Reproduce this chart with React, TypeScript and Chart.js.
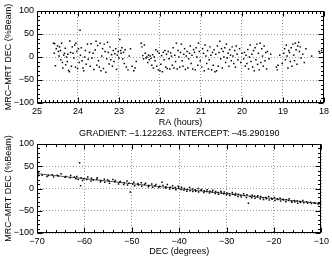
import React, { useEffect, useRef } from "react";
import { Chart, registerables } from "chart.js";

Chart.register(...registerables);

// ---- Data ----
const raHours = [
  24.60, 24.58, 24.57, 24.55, 24.53, 24.50, 24.48, 24.46, 24.45, 24.43,
  24.42, 24.40, 24.38, 24.37, 24.35, 24.33, 24.31, 24.30, 24.28, 24.26,
  24.25, 24.23, 24.21, 24.20, 24.18, 24.16, 24.14, 24.12, 24.10, 24.08,
  24.06, 24.05, 24.03, 24.01, 23.99, 23.97, 23.95, 23.94, 23.92, 23.90,
  23.88, 23.86, 23.84, 23.82, 23.80, 23.77, 23.75, 23.72, 23.70, 23.68,
  23.66, 23.63, 23.61, 23.58, 23.56, 23.54, 23.52, 23.50, 23.48, 23.46,
  23.44, 23.42, 23.40, 23.38, 23.36, 23.34, 23.32, 23.30, 23.28, 23.26,
  23.24, 23.22, 23.20, 23.18, 23.16, 23.14, 23.12, 23.10, 23.08, 23.06,
  23.04, 23.02, 23.00, 22.98, 22.96, 22.95, 22.93, 22.91, 22.89, 22.87,
  22.85, 22.82, 22.78, 22.75, 22.72, 22.68, 22.64, 22.61, 22.58, 22.46,
  22.44, 22.42, 22.40, 22.38, 22.36, 22.34, 22.32, 22.30, 22.28, 22.26,
  22.24, 22.22, 22.20, 22.18, 22.16, 22.14, 22.12, 22.10, 22.08, 22.06,
  22.04, 22.02, 22.00, 21.98, 21.96, 21.94, 21.92, 21.90, 21.88, 21.86,
  21.84, 21.82, 21.80, 21.78, 21.76, 21.74, 21.72, 21.70, 21.68, 21.66,
  21.64, 21.62, 21.60, 21.58, 21.56, 21.54, 21.52, 21.50, 21.48, 21.46,
  21.44, 21.42, 21.40, 21.38, 21.36, 21.34, 21.32, 21.30, 21.28, 21.26,
  21.24, 21.22, 21.20, 21.18, 21.16, 21.14, 21.12, 21.10, 21.08, 21.06,
  21.04, 21.02, 20.98, 20.96, 20.94, 20.92, 20.90, 20.88, 20.86, 20.84,
  20.82, 20.80, 20.78, 20.76, 20.74, 20.72, 20.70, 20.68, 20.66, 20.64,
  20.62, 20.60, 20.58, 20.56, 20.54, 20.52, 20.50, 20.48, 20.46, 20.44,
  20.42, 20.40, 20.38, 20.36, 20.34, 20.32, 20.30, 20.28, 20.26, 20.24,
  20.22, 20.20, 20.18, 20.16, 20.14, 20.12, 20.10, 20.06, 20.03, 20.00,
  19.96, 19.94, 19.92, 19.90, 19.88, 19.86, 19.84, 19.82, 19.80, 19.78,
  19.76, 19.74, 19.72, 19.70, 19.68, 19.66, 19.64, 19.62, 19.60, 19.58,
  19.56, 19.54, 19.52, 19.50, 19.48, 19.46, 19.44, 19.42, 19.40, 19.38,
  19.34, 19.30, 19.16, 19.14, 19.12, 19.08, 19.02, 18.98, 18.96, 18.94,
  18.92, 18.90, 18.88, 18.86, 18.84, 18.82, 18.80, 18.78, 18.76, 18.74,
  18.72, 18.70, 18.68, 18.66, 18.64, 18.62, 18.60, 18.58, 18.56, 18.52,
  18.48, 18.44, 18.30, 18.12, 18.10, 18.06,
];
const raDiff = [
  30, 8, 29, -19, 18, 24, 12, 2, 22, 14,
  -6, 30, -12, -24, 4, 8, 19, -17, 0, -10,
  6, -29, -32, 35, 10, -20, 22, 8, -2, 26,
  -22, 30, 12, -25, 18, -12, 58, 4, 20, -8,
  -24, -30, 0, 14, -16, 28, -5, 10, -20, 29,
  -2, 8, -27, 15, 34, -18, 25, -8, -22, 30,
  -30, 2, 18, -25, 28, 12, -33, -4, 32, 10,
  -15, 22, -6, 5, -20, 14, -10, 7, 18, -27,
  4, 12, -2, 38, 14, 8, 20, -4, 10, -14,
  16, -22, -28, 2, 18, -20, -30, -24, -10, 30,
  22, 3, -4, 26, 8, -2, 0, -12, 4, -6,
  2, -3, -18, 5, -24, 0, -8, 16, -20, 12,
  -28, 8, -30, -16, 3, -32, 10, -6, 14, -22,
  6, -25, 12, -4, -26, 9, 2, -18, 20, -24,
  4, -10, 30, -26, 14, 0, -22, 10, 28, -8,
  -20, 6, 18, -27, 2, 12, -24, -4, 8, 24,
  -14, 4, -26, 16, 10, -28, 20, 0, -18, 30,
  12, -8, -22, 18, 8, -30, 26, 2, -14, 14,
  -26, -6, 22, 4, -28, 10, -18, 16, -32, 6,
  -30, 24, -20, 10, 34, -4, 18, -24, 12, 0,
  20, -12, 28, -2, 8, -20, 16, 4, -8, 22,
  2, -14, 14, -22, 24, 6, -6, 18, -12, 8,
  -4, 10, -20, 4, -14, 16, -26, 0, 26, -10,
  6, -22, 14, -30, 20, -6, 28, -16, 8, -28,
  30, -12, 18, 2, -20, 24, -8, 10, -26, 12,
  -4, 6, -22, -28, -18, 4, -14, 8, 18, -6,
  26, 2, -24, 14, 10, -10, 20, -20, 28, 4,
  -8, 30, 16, -16, 24, 32, 12, 22, -2, 6,
  -12, 18, 2, 12, 8, 14,
];

const decDeg = [
  -69.9, -69.8, -69.7, -68.9, -67.9, -67.6, -66.8, -66.5, -65.7, -65.5,
  -64.9, -64.1, -63.9, -63.0, -62.9, -62.1, -61.8, -61.6, -61.3, -61.0,
  -60.8, -60.7, -60.4, -60.1, -59.5, -59.3, -58.6, -58.5, -58.1, -57.4,
  -57.3, -56.6, -56.5, -55.8, -55.7, -55.1, -54.8, -54.7, -54.0, -53.6,
  -53.5, -52.8, -52.6, -52.4, -51.7, -51.6, -51.0, -50.9, -50.6, -50.3,
  -49.8, -49.6, -49.4, -48.7, -48.6, -48.0, -47.9, -47.3, -47.1, -46.5,
  -46.4, -45.8, -45.6, -45.1, -44.9, -44.3, -44.1, -43.6, -43.4, -42.9,
  -42.8, -42.5, -42.0, -41.9, -41.4, -41.3, -40.8, -40.7, -40.2, -40.1,
  -39.6, -39.5, -39.0, -38.9, -38.4, -38.3, -37.8, -37.7, -37.2, -37.1,
  -36.6, -36.5, -36.0, -35.9, -35.4, -35.3, -34.8, -34.7, -34.2, -34.1,
  -33.6, -33.5, -33.0, -32.9, -32.4, -32.3, -31.8, -31.7, -31.2, -31.1,
  -30.6, -30.5, -30.0, -29.9, -29.4, -29.3, -28.8, -28.7, -28.2, -28.1,
  -27.6, -27.5, -27.0, -26.9, -26.4, -26.3, -25.8, -25.7, -25.4, -25.0,
  -24.7, -24.6, -24.1, -24.0, -23.5, -23.4, -22.9, -22.8, -22.3, -22.2,
  -21.7, -21.6, -21.1, -21.0, -20.5, -20.4, -19.9, -19.8, -19.3, -19.2,
  -18.7, -18.6, -18.1, -18.0, -17.5, -17.4, -16.9, -16.8, -16.3, -16.2,
  -15.7, -15.6, -15.1, -15.0, -14.5, -14.4, -13.9, -13.7, -13.1, -12.9,
  -12.3, -12.1, -11.5, -11.3, -10.7, -10.5, -10.2,
];
const decDiff = [
  32, 28, 35, 30, 27, 29, 31, 26, 30, 28,
  33, 25, 27, 24, 29, 26, 22, 27, 20, 58,
  6, 24, 18, 22, 20, 26, 17, 23, 19, 21,
  24, 15, 18, 21, 14, 19, 17, 12, 20, 15,
  18, 10, 14, 16, 9, 13, 17, 8, 12, -8,
  10, 14, 6, 11, 8, 13, 5, 9, 12, 4,
  7, 10, 3, 6, 9, 2, 5, 14, 7, 1,
  4, 9, -1, 3, 6, 0, 2, -3, 5, 1,
  -2, 3, -4, 0, -6, -2, 2, -5, -1, -7,
  -3, -6, 0, -8, -4, -2, -9, -5, -7, -3,
  -10, -6, -8, -4, -11, -7, -9, -13, -6, -10,
  -12, -8, -14, -10, -12, -16, -9, -13, -15, -11,
  -18, -13, -15, -19, -12, -16, -20, -14, -33, -18,
  -21, -15, -17, -22, -19, -16, -23, -18, -21, -25,
  -20, -23, -18, -26, -22, -24, -20, -27, -23, -25,
  -22, -28, -24, -26, -30, -25, -27, -23, -29, -31,
  -27, -30, -28, -33, -29, -31, -27, -32, -30, -33,
  -31, -34, -32, -33, -35, -34, -33,
];

const fitDec = [-70, -10];
const fitDiff = [33.27, -34.07];

const raTicks = [25, 24, 23, 22, 21, 20, 19, 18];
const decTicks = [-70, -60, -50, -40, -30, -20, -10];
const diffTicks = [-100, -50, 0, 50, 100];

const yTitle = "MRC\u2013MRT DEC (%Beam)";
const topXTitle = "RA (hours)";
const bottomXTitle = "DEC (degrees)";
const fitTitle = "GRADIENT: \u20131.122263. INTERCEPT: \u201345.290190";

const FONT_FAMILY = "'Liberation Sans', Arial, Helvetica, sans-serif";
const font = { family: FONT_FAMILY, size: 9 };
const fmt = (v: any) => String(v).replace("-", "\u2212");

const framePlugin = {
  id: "idlFrame",
  afterDatasetsDraw(chart: any, _args: any, opts: any) {
    const { ctx, chartArea: a, scales } = chart;
    const x = scales.x;
    const y = scales.y;
    ctx.save();
    ctx.strokeStyle = "#000";
    ctx.lineWidth = 1;
    const L = Math.round(a.left) + 0.5;
    const R = Math.round(a.right) - 0.5;
    const T = Math.round(a.top) + 0.5;
    const B = Math.round(a.bottom) - 0.5;
    ctx.strokeRect(L, T, R - L, B - T);
    ctx.beginPath();
    const drawX = (min: number, max: number, minor: number, per: number) => {
      const n = Math.round((max - min) / minor);
      for (let i = 0; i <= n; i++) {
        const v = min + i * minor;
        const px = Math.round(x.getPixelForValue(v)) + 0.5;
        const len = i % per === 0 ? 5 : 2.5;
        ctx.moveTo(px, B);
        ctx.lineTo(px, B - len);
        ctx.moveTo(px, T);
        ctx.lineTo(px, T + len);
      }
    };
    const drawY = (min: number, max: number, minor: number, per: number) => {
      const n = Math.round((max - min) / minor);
      for (let i = 0; i <= n; i++) {
        const v = min + i * minor;
        const py = Math.round(y.getPixelForValue(v)) + 0.5;
        const len = i % per === 0 ? 5 : 2.5;
        ctx.moveTo(L, py);
        ctx.lineTo(L + len, py);
        ctx.moveTo(R, py);
        ctx.lineTo(R - len, py);
      }
    };
    drawX(x.min, x.max, opts.xMinor, opts.xPer);
    drawY(y.min, y.max, opts.yMinor, opts.yPer);
    ctx.stroke();
    if (opts.title) {
      ctx.fillStyle = "#000";
      ctx.font = `9px ${FONT_FAMILY}`;
      ctx.textAlign = "center";
      ctx.textBaseline = "middle";
      ctx.fillText(opts.title, (a.left + a.right) / 2, a.top - 10);
    }
    ctx.restore();
  },
};

function makeConfig(p: {
  points: { x: number; y: number }[];
  line?: { x: number; y: number }[];
  xMin: number;
  xMax: number;
  reverse: boolean;
  xTicks: number[];
  xTitle: string;
  padTop: number;
  xHeight: number;
  xTitlePad: number;
  xMinor: number;
  xPer: number;
  title?: string;
}) {
  const datasets: any[] = [
    {
      data: p.points,
      pointStyle: "rect",
      pointRadius: 1.05,
      pointBorderWidth: 0,
      backgroundColor: "#000",
      borderColor: "#000",
      showLine: false,
    },
  ];
  if (p.line) {
    datasets.push({
      data: p.line,
      showLine: true,
      borderColor: "#555",
      borderWidth: 1,
      pointRadius: 0,
    });
  }
  return {
    type: "scatter" as const,
    data: { datasets },
    options: {
      responsive: false,
      animation: false,
      events: [],
      devicePixelRatio: 1,
      layout: { padding: { top: p.padTop, right: 7, bottom: 0, left: 0 } },
      plugins: {
        legend: { display: false },
        tooltip: { enabled: false },
        idlFrame: { xMinor: p.xMinor, xPer: p.xPer, yMinor: 10, yPer: 5, title: p.title },
      },
      scales: {
        x: {
          type: "linear",
          min: p.xMin,
          max: p.xMax,
          reverse: p.reverse,
          afterBuildTicks: (s: any) => {
            s.ticks = p.xTicks.map((v) => ({ value: v }));
          },
          afterFit: (s: any) => {
            s.height = p.xHeight;
          },
          ticks: { font, color: "#000", padding: 3, maxRotation: 0, autoSkip: false, callback: fmt },
          grid: { color: "#999", lineWidth: 1, drawTicks: false },
          border: { display: false, dash: [1, 2] },
          title: {
            display: true,
            text: p.xTitle,
            font,
            color: "#000",
            padding: { top: 0, bottom: p.xTitlePad },
          },
        },
        y: {
          type: "linear",
          min: -100,
          max: 100,
          afterBuildTicks: (s: any) => {
            s.ticks = diffTicks.map((v) => ({ value: v }));
          },
          afterFit: (s: any) => {
            s.width = 37;
          },
          ticks: { font, color: "#000", padding: 3, autoSkip: false, callback: fmt },
          grid: { color: "#999", lineWidth: 1, drawTicks: false },
          border: { display: false, dash: [1, 2] },
          title: {
            display: true,
            text: yTitle,
            font,
            color: "#000",
            padding: { top: 3.6, bottom: 0 },
          },
        },
      },
    },
    plugins: [framePlugin],
  };
}

export default function App() {
  const topRef = useRef<HTMLCanvasElement | null>(null);
  const botRef = useRef<HTMLCanvasElement | null>(null);

  useEffect(() => {
    document.body.style.margin = "0";
    document.body.style.background = "#fff";
    const topPoints = raHours.map((x, i) => ({ x, y: raDiff[i] }));
    const botPoints = decDeg.map((x, i) => ({ x, y: decDiff[i] }));
    const fitPoints = fitDec.map((x, i) => ({ x, y: fitDiff[i] }));

    const top = new Chart(
      topRef.current as HTMLCanvasElement,
      makeConfig({
        points: topPoints,
        xMin: 18,
        xMax: 25,
        reverse: true,
        xTicks: raTicks,
        xTitle: topXTitle,
        padTop: 11,
        xHeight: 27,
        xTitlePad: 2,
        xMinor: 0.1,
        xPer: 10,
      }) as any
    );
    const bot = new Chart(
      botRef.current as HTMLCanvasElement,
      makeConfig({
        points: botPoints,
        line: fitPoints,
        xMin: -70,
        xMax: -10,
        reverse: false,
        xTicks: decTicks,
        xTitle: bottomXTitle,
        padTop: 18,
        xHeight: 27,
        xTitlePad: 3,
        xMinor: 2,
        xPer: 5,
        title: fitTitle,
      }) as any
    );
    return () => {
      top.destroy();
      bot.destroy();
    };
  }, []);

  return (
    <div style={{ position: "relative", width: 332, height: 260, background: "#fff" }}>
      <canvas ref={topRef} width={332} height={130} style={{ position: "absolute", left: 0, top: 0, width: 332, height: 130 }} />
      <canvas ref={botRef} width={332} height={134} style={{ position: "absolute", left: 0, top: 126, width: 332, height: 134 }} />
    </div>
  );
}
